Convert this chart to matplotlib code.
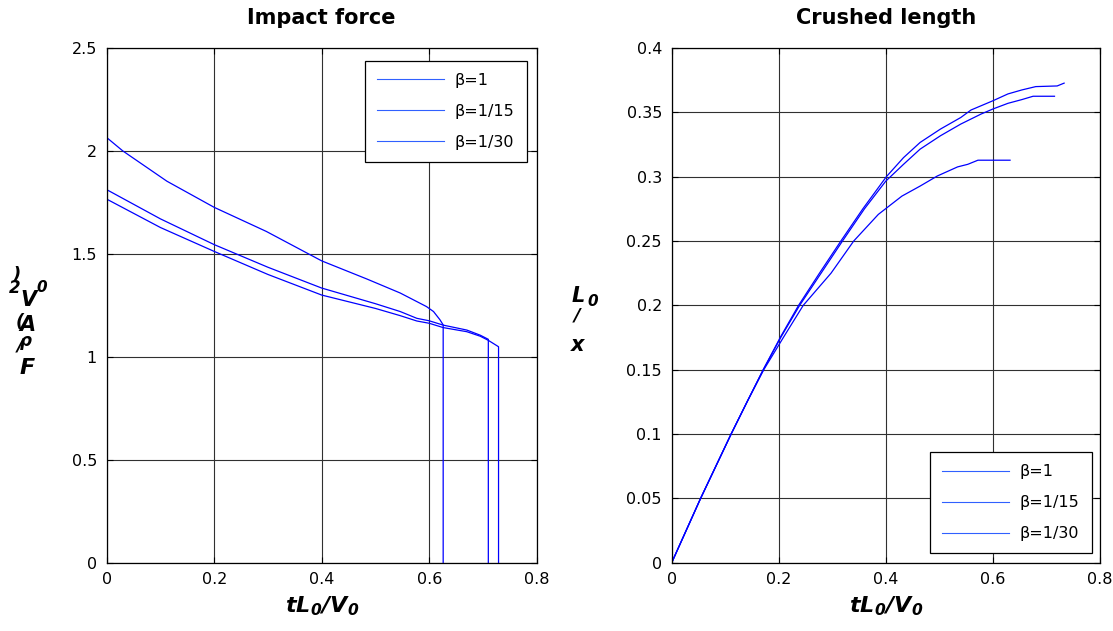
import matplotlib
matplotlib.use("Agg")
import matplotlib.pyplot as plt

plt.rcParams['font.family'] = ['DejaVu Sans']
plt.rcParams['mathtext.fontset'] = 'custom'
plt.rcParams['mathtext.bf'] = 'DejaVu Sans:italic:bold'
plt.rcParams['mathtext.rm'] = 'DejaVu Sans:italic:bold'

labels = ['β=1', 'β=1/15', 'β=1/30']

# Impact force F/(rho A V0^2) vs tL0/V0
t_f1 = [0, 0.03, 0.112, 0.2, 0.297, 0.4, 0.484, 0.546, 0.595, 0.608, 0.62, 0.626, 0.626]
f1 = [2.065, 2.0, 1.853, 1.726, 1.609, 1.466, 1.378, 1.31, 1.244, 1.22, 1.18, 1.155, 0]
t_f2 = [0, 0.1, 0.2, 0.3, 0.4, 0.5, 0.546, 0.577, 0.6, 0.626, 0.67, 0.695, 0.71, 0.71]
f2 = [1.812, 1.67, 1.545, 1.435, 1.334, 1.258, 1.22, 1.187, 1.175, 1.154, 1.13, 1.105, 1.085, 0]
t_f3 = [0, 0.1, 0.2, 0.3, 0.4, 0.5, 0.546, 0.577, 0.6, 0.626, 0.67, 0.695, 0.71, 0.729, 0.729]
f3 = [1.766, 1.628, 1.512, 1.40, 1.30, 1.235, 1.20, 1.174, 1.163, 1.142, 1.122, 1.10, 1.08, 1.049, 0]

# Crushed length x/L0 vs tL0/V0
t_c1 = [0, 0.054, 0.111, 0.142, 0.172, 0.21, 0.2457, 0.2976, 0.34, 0.386, 0.43, 0.464, 0.496, 0.534, 0.553, 0.572, 0.632]
c1 = [0, 0.05, 0.1, 0.126, 0.15, 0.176, 0.2, 0.225, 0.25, 0.2707, 0.2849, 0.2927, 0.3005, 0.3076, 0.3096, 0.3128, 0.3128]
t_c2 = [0, 0.054, 0.111, 0.142, 0.171, 0.205, 0.239, 0.279, 0.319, 0.36, 0.4, 0.433, 0.464, 0.502, 0.54, 0.578, 0.6, 0.628, 0.654, 0.675, 0.715]
c2 = [0, 0.05, 0.1, 0.126, 0.15, 0.176, 0.2, 0.225, 0.25, 0.275, 0.2966, 0.3096, 0.3214, 0.3318, 0.3409, 0.3487, 0.3526, 0.357, 0.3599, 0.3625, 0.3625]
t_c3 = [0, 0.054, 0.111, 0.142, 0.171, 0.204, 0.237, 0.276, 0.316, 0.357, 0.401, 0.433, 0.464, 0.502, 0.54, 0.559, 0.6, 0.628, 0.654, 0.68, 0.72, 0.733]
c3 = [0, 0.05, 0.1, 0.126, 0.15, 0.176, 0.2, 0.225, 0.25, 0.275, 0.3, 0.3148, 0.3266, 0.337, 0.346, 0.3518, 0.359, 0.3643, 0.3674, 0.370, 0.3705, 0.3727]

xticks = [0, 0.2, 0.4, 0.6, 0.8]
yticks_f = [0, 0.5, 1, 1.5, 2, 2.5]
yticks_c = [0, 0.05, 0.1, 0.15, 0.2, 0.25, 0.3, 0.35, 0.4]

W, H = 1113, 631
fig = plt.figure(figsize=(W / 100, H / 100), dpi=100)

def px_axes(x0, x1, y0, y1):
    return fig.add_axes([x0 / W, 1 - y1 / H, (x1 - x0) / W, (y1 - y0) / H])

axL = px_axes(106.7, 536.7, 48, 562.7)
axR = px_axes(671.7, 1100, 48, 562.7)

col = '#0000ff'
lw = 0.9
for t, v, lab in [(t_f1, f1, labels[0]), (t_f2, f2, labels[1]), (t_f3, f3, labels[2])]:
    axL.plot(t, v, color=col, lw=lw, label=lab)
for t, v, lab in [(t_c1, c1, labels[0]), (t_c2, c2, labels[1]), (t_c3, c3, labels[2])]:
    axR.plot(t, v, color=col, lw=lw, label=lab)

for ax, yt, ylim in [(axL, yticks_f, (0, 2.5)), (axR, yticks_c, (0, 0.4))]:
    ax.set_xlim(0, 0.8)
    ax.set_ylim(*ylim)
    ax.set_xticks(xticks)
    ax.set_xticklabels([f"{v:g}" for v in xticks])
    ax.set_yticks(yt)
    ax.set_yticklabels([f"{v:g}" for v in yt])
    ax.grid(True, color='#303030', lw=0.8, ls='-')
    ax.set_axisbelow(True)
    ax.tick_params(direction='in', top=True, right=True, length=4, width=0.8,
                   labelsize=11.5, pad=7, colors='black')
    for s in ax.spines.values():
        s.set_linewidth(0.9)
        s.set_color('black')
    ax.text(0.5, 1 + 30 / 514.7, ax is axL and 'Impact force' or 'Crushed length',
            transform=ax.transAxes, ha='center', va='center',
            fontsize=15, fontweight='bold')
    ax.text(0.5, -43 / 514.7, r'$\mathbf{tL_0/V_0}$', transform=ax.transAxes,
            ha='center', va='center', fontsize=16)

legkw = dict(fontsize=11.5, frameon=True, fancybox=False, edgecolor='black',
             framealpha=1, handlelength=4.2, handletextpad=0.7, labelspacing=1.0,
             borderpad=0.75, borderaxespad=0)
legL = axL.legend(loc='upper right', **legkw)
legL.set_bbox_to_anchor(((526.7 - 106.7) / 430, 1 - (60.7 - 48) / 514.7), transform=axL.transAxes)
legR = axR.legend(loc='lower right', **legkw)
legR.set_bbox_to_anchor(((1091.7 - 671.7) / 428.3, (562.7 - 553.3) / 514.7), transform=axR.transAxes)
for leg in (legL, legR):
    leg.get_frame().set_linewidth(0.9)
    for ln in leg.get_lines():
        ln.set_linewidth(0.8)
        ln.set_color('#3060ff')

def ch(x, y, s, size=15):
    fig.text(x / W, 1 - y / H, s, ha='center', va='center', fontsize=size,
             fontweight='bold', fontstyle='italic')

# stacked y-label of the left plot: F/(rho A V0^2)
ch(17, 275, ')', 13)
ch(15, 288, '2', 12)
ch(28, 300, 'V', 15)
ch(42, 288, '0', 11)
ch(20, 322, '(', 13)
ch(27, 325, 'A', 15)
ch(26, 341, 'ρ', 12)
ch(20, 346, '/', 13)
ch(27, 368, 'F', 16)

# stacked y-label of the right plot: x/L0
ch(578, 296, 'L', 15)
ch(593, 301, '0', 11)
ch(577, 316, '/', 13)
ch(578, 345, 'x', 15)

fig.savefig('out.png', dpi=100)
